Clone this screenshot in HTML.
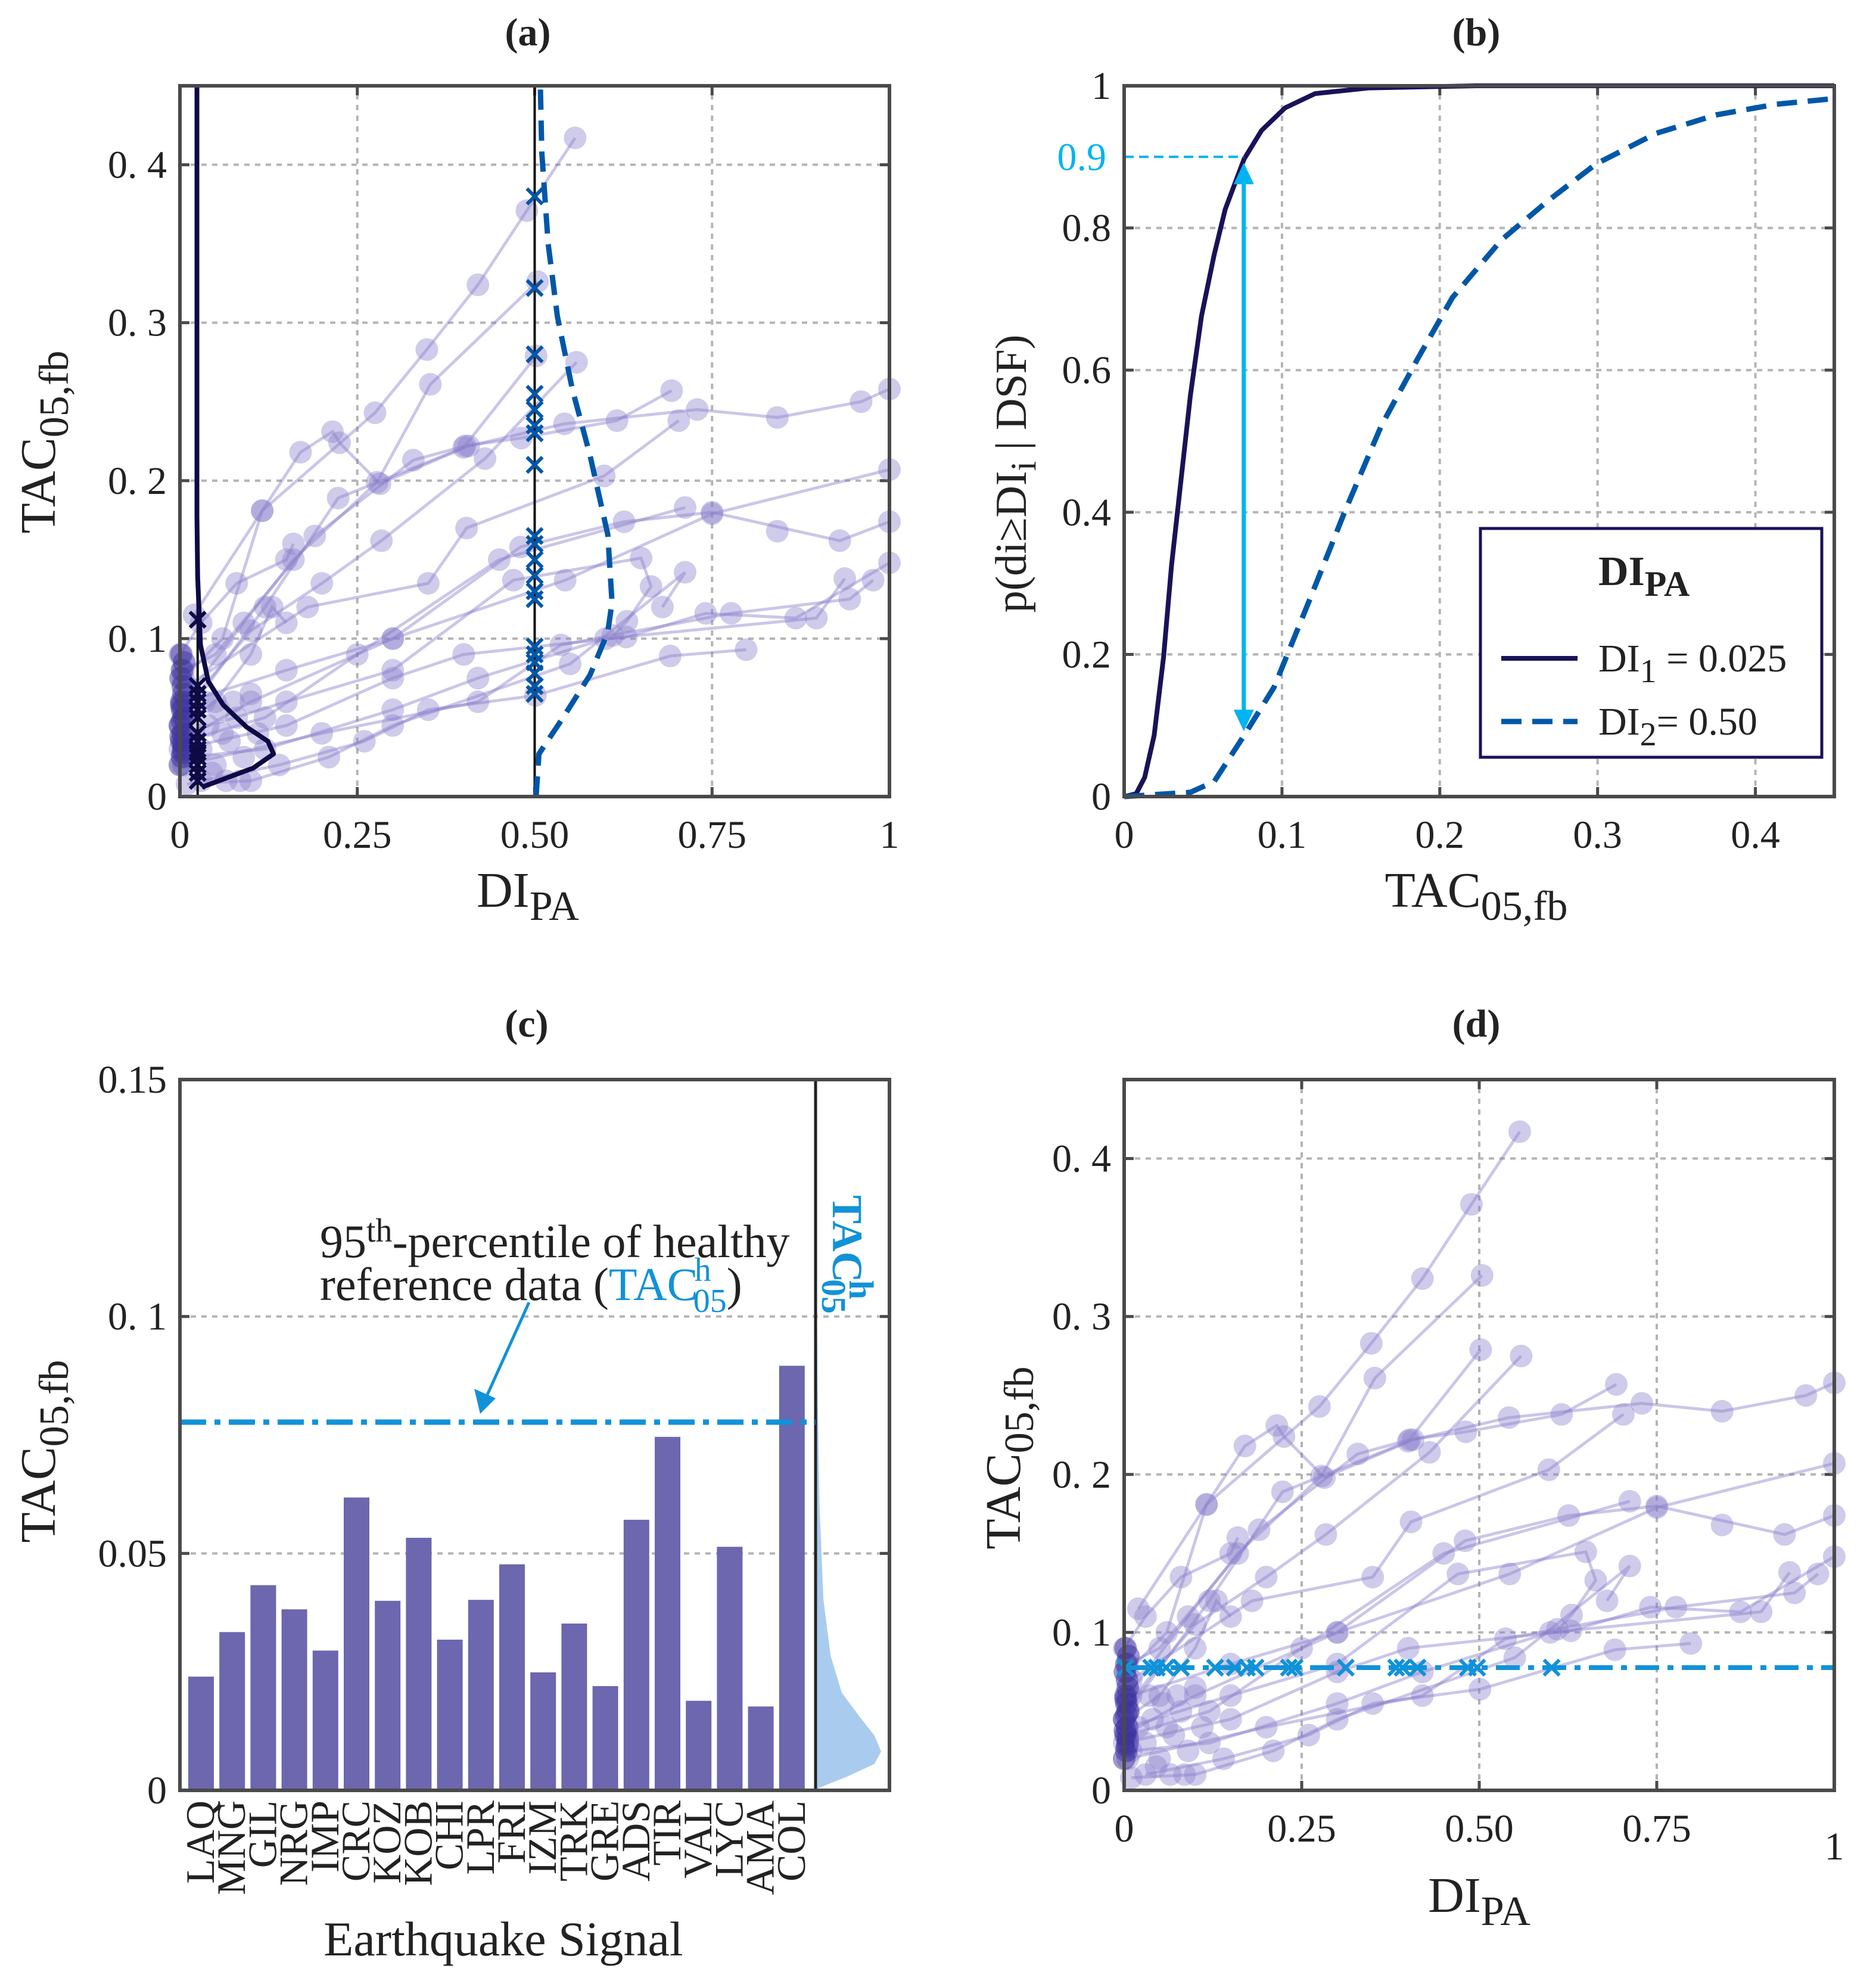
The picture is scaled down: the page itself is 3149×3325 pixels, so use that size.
<!DOCTYPE html>
<html><head><meta charset="utf-8">
<style>
html,body{margin:0;padding:0;background:#fff;}
svg{display:block;font-family:"Liberation Serif",serif;}
</style></head>
<body>
<svg id="fig" xmlns="http://www.w3.org/2000/svg" width="3149" height="3325" viewBox="0 0 3149 3325">
<rect x="0" y="0" width="3149" height="3325" fill="#fff"/>
</svg>
<script>
// ---------- DATA ----------
const trajectories = [
 [[0.005,0.075],[0.06,0.1],[0.116,0.181],[0.275,0.243],[0.348,0.283],[0.42,0.324],[0.489,0.371],[0.557,0.417]],
 [[0.005,0.06],[0.09,0.11],[0.16,0.15],[0.278,0.199],[0.353,0.261],[0.504,0.326]],
 [[0.005,0.05],[0.12,0.12],[0.223,0.189],[0.4,0.221],[0.502,0.279]],
 [[0.005,0.055],[0.1,0.105],[0.2,0.135],[0.284,0.162],[0.43,0.214],[0.559,0.275]],
 [[0.005,0.08],[0.05,0.09],[0.19,0.165],[0.329,0.213],[0.402,0.222],[0.481,0.227],[0.616,0.238],[0.693,0.257]],
 [[0.02,0.115],[0.116,0.181],[0.17,0.218],[0.215,0.231],[0.225,0.224],[0.282,0.198],[0.407,0.222],[0.542,0.236],[0.729,0.245],[0.842,0.24],[0.96,0.25],[1.0,0.258]],
 [[0.01,0.07],[0.18,0.12],[0.35,0.135],[0.404,0.17],[0.598,0.203],[0.703,0.238]],
 [[0.01,0.06],[0.15,0.08],[0.3,0.1],[0.543,0.137],[0.75,0.179],[1.0,0.207]],
 [[0.02,0.04],[0.1,0.06],[0.3,0.1],[0.48,0.158],[0.626,0.174],[0.75,0.18],[0.93,0.162],[1.0,0.174]],
 [[0.005,0.035],[0.12,0.05],[0.25,0.09],[0.45,0.15],[0.712,0.183]],
 [[0.005,0.04],[0.15,0.06],[0.3,0.08],[0.47,0.137],[0.65,0.151],[0.664,0.133],[0.63,0.111],[0.61,0.102]],
 [[0.0,0.03],[0.15,0.045],[0.3,0.075],[0.4,0.09],[0.629,0.101],[0.741,0.116],[0.868,0.113],[1.0,0.148]],
 [[0.005,0.02],[0.2,0.04],[0.42,0.06],[0.537,0.096],[0.777,0.116],[0.944,0.125],[0.977,0.137]],
 [[0.03,0.01],[0.14,0.02],[0.26,0.035],[0.35,0.055],[0.501,0.064],[0.691,0.089],[0.798,0.093]],
 [[0.01,0.008],[0.1,0.01],[0.21,0.025],[0.3,0.045],[0.55,0.084],[0.712,0.142],[0.68,0.12]],
 [[0.01,0.025],[0.12,0.03],[0.3,0.055],[0.42,0.075],[0.6,0.1],[0.897,0.113],[0.937,0.138]],
 [[0.0,0.09],[0.03,0.11],[0.08,0.135],[0.15,0.15],[0.16,0.16]],
 [[0.0,0.045],[0.05,0.06],[0.1,0.09],[0.13,0.12],[0.15,0.11]]
];
const clusterDI = [0,0.003,0.005,0.002,0.004,0,0.006,0.003,0.002,0.005,0.004,0.001,0.003,0.006,0.002,0.004,0.005,0.001,0.003,0.002];
const clusterTAC = [0.02,0.025,0.03,0.035,0.04,0.045,0.05,0.055,0.06,0.065,0.07,0.075,0.08,0.085,0.09,0.028,0.033,0.038,0.048,0.058];
const extraDI = [0.03,0.05,0.07,0.09,0.04,0.06,0.08,0.11,0.035,0.055,0.075,0.1,0.045,0.065,0.085,0.842];
const extraTAC = [0.03,0.02,0.035,0.025,0.045,0.04,0.05,0.04,0.06,0.055,0.06,0.065,0.015,0.01,0.01,0.168];

const markDI1 = 0.025, markDI2 = 0.5;
const marks1TAC = [0.112,0.07,0.065,0.06,0.055,0.05,0.04,0.035,0.03,0.028,0.025,0.02,0.015,0.01];
const marks2TAC = [0.38,0.322,0.28,0.255,0.245,0.235,0.23,0.21,0.165,0.16,0.15,0.14,0.13,0.125,0.095,0.09,0.085,0.078,0.07,0.065];
const pdf1DI = [0.031,0.061,0.103,0.132,0.124,0.094,0.061,0.04,0.029,0.025,0.024,0.024];
const pdf1TAC = [0.006,0.011,0.018,0.027,0.035,0.044,0.058,0.073,0.096,0.139,0.177,0.45];
const pdf2DI = [0.502,0.506,0.54,0.578,0.603,0.609,0.603,0.578,0.553,0.532,0.519,0.51,0.508];
const pdf2TAC = [0,0.027,0.05,0.077,0.104,0.123,0.166,0.216,0.258,0.304,0.35,0.408,0.45];

const cdf1X = [0,0.0076,0.013,0.019,0.025,0.030,0.036,0.042,0.049,0.057,0.064,0.076,0.087,0.102,0.121,0.155,0.223,0.45];
const cdf1P = [0,0.004,0.027,0.086,0.197,0.325,0.445,0.565,0.676,0.762,0.826,0.897,0.937,0.969,0.989,0.997,1,1];
const cdf2X = [0,0.042,0.057,0.076,0.095,0.117,0.14,0.163,0.186,0.208,0.239,0.269,0.299,0.337,0.375,0.413,0.45];
const cdf2P = [0,0.006,0.021,0.086,0.154,0.274,0.402,0.522,0.616,0.702,0.783,0.839,0.890,0.933,0.959,0.974,0.982];
const pLevel = 0.9, tacAt90 = 0.0758, pLow = 0.087;

const barCats = ["LAQ","MNG","GIL","NRG","IMP","CRC","KOZ","KOB","CHI","LPR","FRI","IZM","TRK","GRE","ADS","TIR","VAL","LYC","AMA","COL"];
const barVals = [0.024,0.0334,0.0433,0.0382,0.0295,0.0618,0.040,0.0533,0.0318,0.0402,0.0477,0.0249,0.0352,0.022,0.0571,0.0746,0.0189,0.0514,0.0177,0.0896];
const tacH = 0.0777;
const hPdfTAC = [0,0.0004,0.003,0.0056,0.0082,0.0115,0.0154,0.0206,0.0284,0.0402,0.06,0.086,0.121,0.15];
const hPdfDens = [0,0.03,0.5,0.9,1.0,0.9,0.68,0.4,0.23,0.12,0.06,0.03,0.01,0];
const crossDI = [0.002,0.038,0.046,0.059,0.08,0.128,0.156,0.173,0.185,0.232,0.24,0.312,0.383,0.392,0.413,0.484,0.497,0.602];

const tick045 = [0,0.1,0.2,0.3,0.4];
const tick045Lbl = ["0","0. 1","0. 2","0. 3","0. 4"];
const tickDI = [0,0.25,0.5,0.75,1];
const tickDILbl = ["0","0.25","0.50","0.75","1"];
const tickP = [0,0.2,0.4,0.6,0.8,1];
const tickPLbl = ["0","0.2","0.4","0.6","0.8","1"];
const tickTACb = [0,0.1,0.2,0.3,0.4];
const tickTACbLbl = ["0","0.1","0.2","0.3","0.4"];
const tickC = [0,0.05,0.1,0.15];
const tickCLbl = ["0","0.05","0. 1","0.15"];

// ---------- HELPERS ----------
const NS = "http://www.w3.org/2000/svg";
const svg = document.getElementById('fig');
function el(tag, attrs, parent){
  const e = document.createElementNS(NS, tag);
  for (const k in attrs) e.setAttribute(k, attrs[k]);
  (parent||svg).appendChild(e);
  return e;
}
function scale(d0,d1,r0,r1){return v => r0 + (v-d0)/(d1-d0)*(r1-r0);}
const PT_FILL = "rgba(140,130,205,0.42)", LINE_C = "rgba(130,120,200,0.42)";
const AX = "#4a4a4a";
const TF = 66;

function frame(name, x0,x1,y0,y1, xt, xs, yt, ys, xl, yl, gridX, gridY){
  const g = el('g', {});
  
  
  if (gridX) xt.forEach(v=>{ const X=xs(v); if (X>x0+2 && X<x1-2){
    const l = el('line',{x1:X,x2:X,y1:y0,y2:y1,stroke:"#b4b4b4","stroke-width":4,"stroke-dasharray":"9 9"},g);
    
    
  }});
  if (gridY) yt.forEach(v=>{ const Y=ys(v); if (Y<y0-2 && Y>y1+2){
    const l = el('line',{x1:x0,x2:x1,y1:Y,y2:Y,stroke:"#b4b4b4","stroke-width":4,"stroke-dasharray":"9 9"},g);
    
    
  }});
  xt.forEach((v,i)=>{ const X=xs(v);
    el('line',{x1:X,x2:X,y1:y0,y2:y0-16,stroke:AX,"stroke-width":5},g);
    el('line',{x1:X,x2:X,y1:y1,y2:y1+16,stroke:AX,"stroke-width":5},g);
    if (xl){ const t = el('text',{x:X,y:y0+86,"text-anchor":"middle","font-size":TF,fill:"#222"},g);
      t.textContent = xl[i];
      
       }
  });
  yt.forEach((v,i)=>{ const Y=ys(v);
    el('line',{x1:x0,x2:x0+16,y1:Y,y2:Y,stroke:AX,"stroke-width":5},g);
    el('line',{x1:x1,x2:x1-16,y1:Y,y2:Y,stroke:AX,"stroke-width":5},g);
    const t = el('text',{x:x0-22,y:Y+22,"text-anchor":"end","font-size":TF,fill:"#222"},g);
    t.textContent = yl[i];
    
    
  });
  return g;
}
function border(x0,x1,y0,y1){
  const r = el('rect',{x:x0,y:y1,width:x1-x0,height:y0-y1,fill:"none",stroke:AX,"stroke-width":6});
  
  
}
function title(txt,x,y){
  const t = el('text',{x:x,y:y,"text-anchor":"middle","font-size":66,"font-weight":"bold",fill:"#222"});
  t.textContent = txt;
  
  
}
function tacLabel(x,y,rot,name){
  const t = el('text',{x:x,y:y,"text-anchor":"middle","font-size":84,fill:"#222",transform:rot?`rotate(-90 ${x} ${y})`:""});
  
  
  t.innerHTML = 'TAC<tspan dy="22" font-size="70">05,fb</tspan>';
}
function diLabel(x,y,name){
  const t = el('text',{x:x,y:y,"text-anchor":"middle","font-size":84,fill:"#222"});
  
  
  t.innerHTML = 'DI<tspan dy="22" font-size="70">PA</tspan>';
}
function scatter(xs, ys, g){
  trajectories.forEach(tr=>{
    const p = el('polyline',{points:tr.map(d=>xs(d[0])+","+ys(d[1])).join(" "),fill:"none",stroke:LINE_C,"stroke-width":5},g);
    
    
    tr.forEach(d=>{
      const c = el('circle',{cx:xs(d[0]),cy:ys(d[1]),r:19,fill:PT_FILL},g);
      
      
    });
  });
  clusterDI.forEach((v,i)=>{
    const c = el('circle',{cx:xs(v),cy:ys(clusterTAC[i]),r:19,fill:"rgba(60,50,160,0.5)"},g);
    
    
  });
  extraDI.forEach((v,i)=>{
    const c = el('circle',{cx:xs(v),cy:ys(extraTAC[i]),r:19,fill:PT_FILL},g);
    
    
  });
}
function cross(x,y,col,g,name){
  const s=13;
  const p = el('path',{d:`M${x-s},${y-s}L${x+s},${y+s}M${x-s},${y+s}L${x+s},${y-s}`,stroke:col,"stroke-width":6,fill:"none"},g);
  
  
}

// ---------- PANEL A ----------
(function(){
  const x0=302,x1=1493,y0=1337,y1=144;
  const xs=scale(0,1,x0,x1), ys=scale(0,0.45,y0,y1);
  frame('panel-a-axes',x0,x1,y0,y1,tickDI,xs,tick045,ys,tickDILbl,tick045Lbl,true,true);
  const g = el('g',{});  
  scatter(xs,ys,g);
  [markDI1,markDI2].forEach(v=>{
    const l = el('line',{x1:xs(v),x2:xs(v),y1:y0,y2:y1,stroke:"#111","stroke-width":4},g);
    
    
  });
  const p1 = el('polyline',{points:pdf1DI.map((v,i)=>xs(v)+","+ys(pdf1TAC[i])).join(" "),fill:"none",stroke:"#0d0a45","stroke-width":8,"stroke-linejoin":"round"},g);
  
  
  const p2 = el('polyline',{points:pdf2DI.map((v,i)=>xs(v)+","+ys(pdf2TAC[i])).join(" "),fill:"none",stroke:"#0057a8","stroke-width":9,"stroke-dasharray":"34 18"},g);
  
  
  marks1TAC.forEach(v=>cross(xs(markDI1),ys(v),"#0d0a45",g,'di1-marker'));
  marks2TAC.forEach(v=>cross(xs(markDI2),ys(v),"#0057a8",g,'di2-marker'));
  border(x0,x1,y0,y1);
  title('(a)',886,76);
  tacLabel(92,742,true,'panel-a-y-title');
  diLabel(886,1522,'panel-a-x-title');
})();

// ---------- PANEL B ----------
(function(){
  const x0=1887,x1=3079,y0=1337,y1=144;
  const xs=scale(0,0.45,x0,x1), ys=scale(0,1,y0,y1);
  frame('panel-b-axes',x0,x1,y0,y1,tickTACb,xs,tickP,ys,tickTACbLbl,tickPLbl,true,true);
  const g = el('g',{});  
  const c1 = el('polyline',{points:cdf1X.map((v,i)=>xs(v)+","+ys(cdf1P[i])).join(" "),fill:"none",stroke:"#1a1258","stroke-width":8,"stroke-linejoin":"round"},g);
  
  
  const c2 = el('polyline',{points:cdf2X.map((v,i)=>xs(v)+","+ys(cdf2P[i])).join(" "),fill:"none",stroke:"#0057a8","stroke-width":9,"stroke-dasharray":"34 18"},g);
  
  
  const hl = el('line',{x1:x0,x2:xs(tacAt90),y1:ys(pLevel),y2:ys(pLevel),stroke:"#00b4f0","stroke-width":4,"stroke-dasharray":"16 9"},g);
  
  
  const X=xs(tacAt90), Ya=ys(pLevel)+10, Yb=ys(pLow)-6;
  const ar = el('line',{x1:X,x2:X,y1:Ya+35,y2:Yb-35,stroke:"#00b4f0","stroke-width":7},g);
  
  
  const h1 = el('polygon',{points:`${X},${Ya} ${X-17},${Ya+36} ${X+17},${Ya+36}`,fill:"#00b4f0"},g);
  
  
  const h2 = el('polygon',{points:`${X},${Yb} ${X-17},${Yb-36} ${X+17},${Yb-36}`,fill:"#00b4f0"},g);
  
  
  const t9 = el('text',{x:x0-30,y:ys(pLevel)+22,"text-anchor":"end","font-size":TF,fill:"#00b4f0"},g);
  t9.textContent='0.9';
  
  
  border(x0,x1,y0,y1);
  // legend
  const lg = el('g',{});  
  el('rect',{x:2485,y:887,width:573,height:384,fill:"#fff",stroke:"#1a1258","stroke-width":5},lg);
  const lt = el('text',{x:2683,y:982,"font-size":70,"font-weight":"bold",fill:"#222"},lg);
  lt.innerHTML='DI<tspan dy="18" font-size="60">PA</tspan>';
  
  
  const l1 = el('line',{x1:2520,x2:2648,y1:1105,y2:1105,stroke:"#1a1258","stroke-width":8},lg);
  
  
  const e1 = el('text',{x:2683,y:1127,"font-size":66,fill:"#222"},lg);
  e1.innerHTML='DI<tspan dy="18" font-size="56">1</tspan><tspan dy="-18"> = 0.025</tspan>';
  
  
  const l2 = el('line',{x1:2520,x2:2648,y1:1211,y2:1211,stroke:"#0057a8","stroke-width":9,"stroke-dasharray":"34 18"},lg);
  
  
  const e2 = el('text',{x:2683,y:1233,"font-size":66,fill:"#222"},lg);
  e2.innerHTML='DI<tspan dy="18" font-size="56">2</tspan><tspan dy="-18">= 0.50</tspan>';
  
  
  title('(b)',2478,76);
  const yl = el('text',{x:1722,y:795,"text-anchor":"middle","font-size":74,fill:"#222",transform:"rotate(-90 1722 795)"});
  yl.innerHTML='p(di≥DI<tspan dy="16" font-size="60">i</tspan><tspan dy="-16"> | DSF)</tspan>';
  
  
  tacLabel(2478,1522,false,'panel-b-x-title');
})();

// ---------- PANEL C ----------
(function(){
  const x0=302,x1=1493,y0=3005,y1=1812, split=1369;
  const ys=scale(0,0.15,y0,y1);
  const bx = i => 337 + i*52.2;
  frame('panel-c-axes',x0,x1,y0,y1,[],null,tickC,ys,null,tickCLbl,false,true);
  const g = el('g',{});  
  barVals.forEach((v,i)=>{
    const r = el('rect',{x:bx(i)-21,y:ys(v),width:43,height:y0-ys(v),fill:"#6c67ae"},g);
    
    
    const t = el('text',{x:bx(i)+22,y:3022,"text-anchor":"end","font-size":68,fill:"#222",transform:`rotate(-90 ${bx(i)+22} 3022)`},g);
    t.textContent = barCats[i];
    
    
  });
  const hp = el('polygon',{points:hPdfTAC.map((v,i)=>(split+hPdfDens[i]*110)+","+ys(v)).join(" "),fill:"#a9ccee"},g);
  
  
  const sl = el('line',{x1:split,x2:split,y1:y0,y2:y1,stroke:"#222","stroke-width":5},g);
  
  
  const th = el('line',{x1:x0,x2:split,y1:ys(tacH),y2:ys(tacH),stroke:"#1192d8","stroke-width":9,"stroke-dasharray":"44 14 10 14"},g);
  
  
  const an = el('text',{x:537,y:2110,"font-size":78,fill:"#222"},g);
  an.innerHTML='95<tspan dy="-26" font-size="56">th</tspan><tspan dy="26">-percentile of healthy</tspan>';
  
  
  const an2 = el('text',{x:537,y:2182,"font-size":78,fill:"#222"},g);
  an2.innerHTML='reference data (<tspan fill="#1192d8">TAC</tspan><tspan fill="#1192d8" font-size="56" dy="-32" dx="-6">h</tspan><tspan fill="#1192d8" font-size="56" dy="52" dx="-30">05</tspan><tspan dy="-20">)</tspan>';
  
  
  const tipY = ys(tacH)-14;
  const arr = el('line',{x1:888,y1:2186,x2:818,y2:tipY-32,stroke:"#1192d8","stroke-width":5},g);
  
  
  const ah = el('polygon',{points:`806,${tipY} 796,${tipY-42} 832,${tipY-26}`,fill:"#1192d8"},g);
  
  
  const vt = el('text',{x:1398,y:2006,"font-size":72,"font-weight":"bold",fill:"#1192d8",transform:"rotate(90 1398 2006)"},g);
  vt.innerHTML='TAC<tspan font-size="58" dy="-28" dx="-4">h</tspan><tspan font-size="58" dy="46" dx="-34">05</tspan>';
  
  
  border(x0,x1,y0,y1);
  title('(c)',884,1740);
  tacLabel(92,2436,true,'panel-c-y-title');
  const xt = el('text',{x:845,y:3282,"text-anchor":"middle","font-size":82,fill:"#222"});
  xt.textContent='Earthquake Signal';
  
  
})();

// ---------- PANEL D ----------
(function(){
  const x0=1887,x1=3079,y0=3005,y1=1812;
  const xs=scale(0,1,x0,x1), ys=scale(0,0.45,y0,y1);
  frame('panel-d-axes',x0,x1,y0,y1,tickDI.slice(0,4),xs,tick045,ys,tickDILbl.slice(0,4),tick045Lbl,true,true);
  el('line',{x1:x1,x2:x1,y1:y0,y2:y0-16,stroke:AX,"stroke-width":5});
  const g = el('g',{});  
  scatter(xs,ys,g);
  const th = el('line',{x1:x0,x2:x1,y1:ys(tacH),y2:ys(tacH),stroke:"#1192d8","stroke-width":8,"stroke-dasharray":"40 14 10 14"},g);
  
  
  crossDI.forEach(v=>cross(xs(v),ys(tacH),"#1192d8",g,'threshold-crossing-marker'));
  border(x0,x1,y0,y1);
  title('(d)',2478,1740);
  tacLabel(1712,2447,true,'panel-d-y-title');
  diLabel(2483,3209,'panel-d-x-title');
  const one = el('text',{x:3079,y:3121,"text-anchor":"middle","font-size":TF,fill:"#222"});
  one.textContent='1';
  
  
})();
</script>
</body></html>
